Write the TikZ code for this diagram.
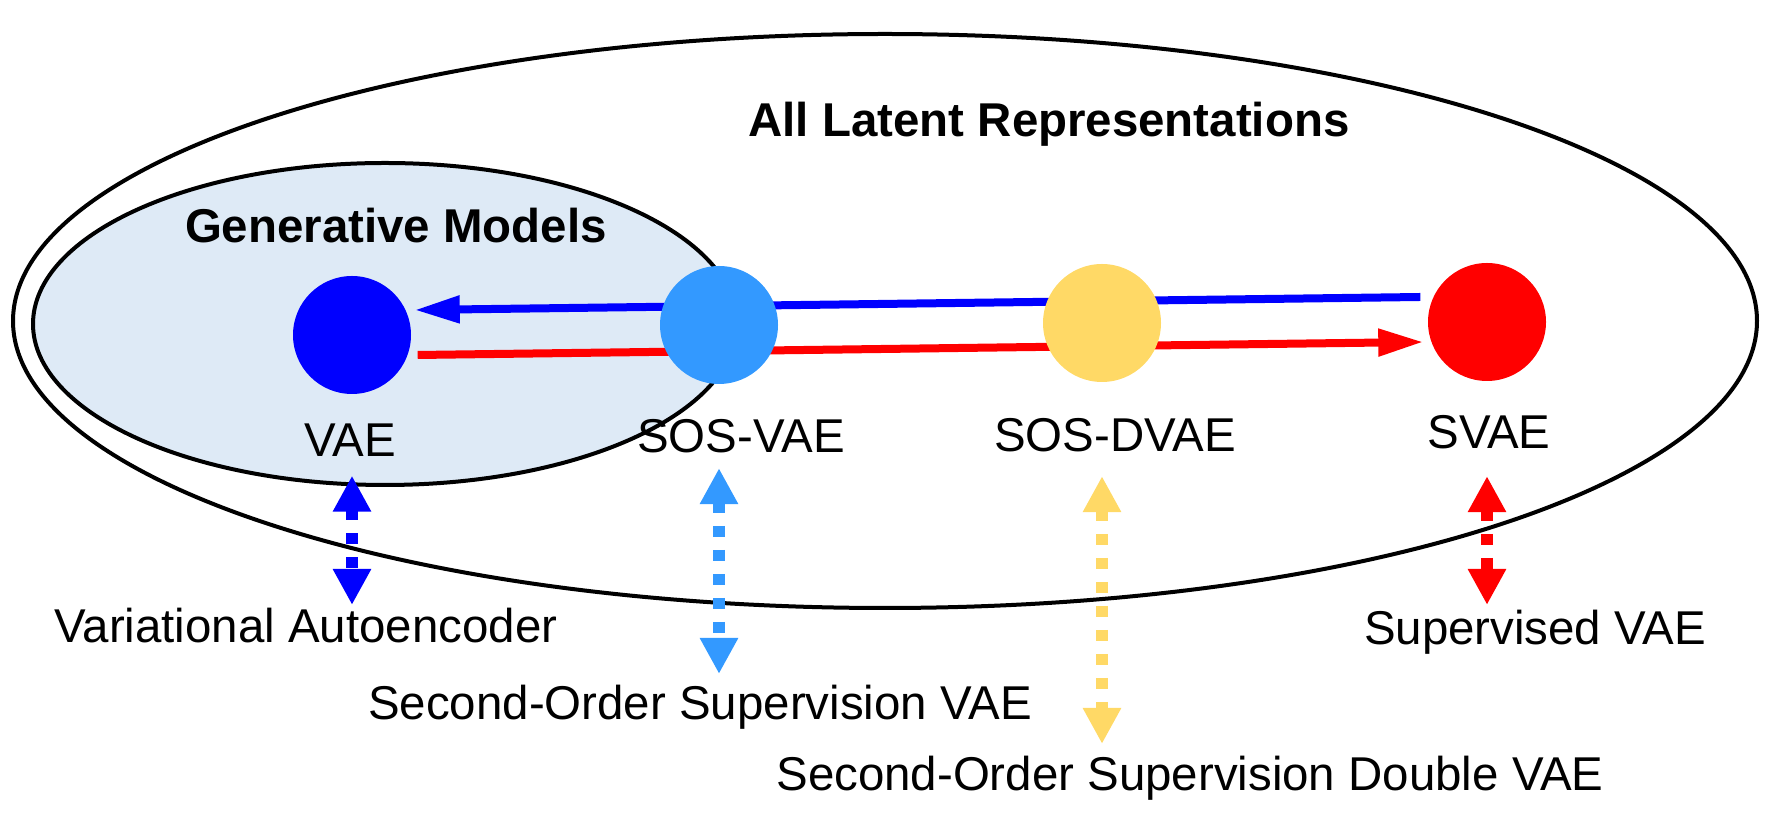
\documentclass[tikz,border=0pt]{standalone}
\usepackage{fontspec}
\setmainfont{Liberation Sans}
\usetikzlibrary{arrows.meta}
\definecolor{VaeBlue}{HTML}{0000FF}
\definecolor{SosBlue}{HTML}{3399FF}
\definecolor{SosGold}{HTML}{FFD966}
\definecolor{SvaeRed}{HTML}{FF0000}
\definecolor{GenFill}{HTML}{DEEAF6}
\pgfdeclarelayer{bg}
\pgfsetlayers{bg,main}

\begin{document}
\begin{tikzpicture}[x=0.1mm, y=-0.1mm,
  blob/.style={circle, minimum size=11.8mm, inner sep=0pt},
  lbl/.style={anchor=base, inner sep=0pt, font=\fontsize{13.5pt}{16pt}\selectfont},
  ttl/.style={anchor=base, inner sep=0pt, font=\fontsize{13.5pt}{16pt}\selectfont\bfseries},
  link/.style={-{Triangle[length=4.5mm, width=2.6mm]}, line width=0.8mm},
  dbl/.style={{Triangle[length=3.6mm, width=3.6mm]}-{Triangle[length=3.6mm, width=3.6mm]}, line width=1.2mm, dash pattern=on 1.1mm off 1.3mm}
]
\useasboundingbox (0,0) rectangle (1779,823);

\node[ttl] (alltitle) at (1049,137) {All Latent Representations};
\node[ttl] (gentitle) at (396,243) {Generative Models};

\node[blob, fill=VaeBlue] (vae) at (352,335) {};
\node[blob, fill=SosBlue] (sosvae) at (719,325) {};
\node[blob, fill=SosGold] (sosdvae) at (1102,323) {};
\node[blob, fill=SvaeRed] (svae) at (1487,322) {};

\node[lbl] (vaelbl) at (350,457) {VAE};
\node[lbl] (sosvaelbl) at (741,453) {SOS-VAE};
\node[lbl] (sosdvaelbl) at (1115,452) {SOS-DVAE};
\node[lbl] (svaelbl) at (1489,449) {SVAE};

\node[lbl] (vaedesc) at (306,643) {Variational Autoencoder};
\node[lbl] (sosvaedesc) at (700,720) {Second-Order Supervision VAE};
\node[lbl] (sosdvaedesc) at (1190,791) {Second-Order Supervision Double VAE};
\node[lbl] (svaedesc) at (1535,645) {Supervised VAE};

% sets and the two long arrows sit under the circles
\begin{pgfonlayer}{bg}
\draw[line width=0.4mm] (885,321) ellipse [x radius=87.2mm, y radius=28.7mm];
\draw[line width=0.4mm, fill=GenFill] (385,324) ellipse [x radius=35.2mm, y radius=16.1mm];
\draw[link, VaeBlue] ([shift={(-7,-25)}]svae.west) -- ([shift={(3,-25)}]vae.east);
\draw[link, SvaeRed] ([shift={(6,20)}]vae.east) -- ([shift={(-4,20)}]svae.west);
\end{pgfonlayer}

\draw[dbl, VaeBlue, shorten <=1.8mm, shorten >=0.3mm] (vaelbl.south -| vae) -- (vaedesc.north -| vae);
\draw[dbl, SosBlue, shorten <=1.4mm, shorten >=1.1mm] (sosvaelbl.south -| sosvae) -- (sosvaedesc.north -| sosvae);
\draw[dbl, SosGold, shorten <=2.3mm, shorten >=1.2mm] (sosdvaelbl.south -| sosdvae) -- (sosdvaedesc.north -| sosdvae);
\draw[dbl, SvaeRed, shorten <=2.6mm, shorten >=0.5mm] (svaelbl.south -| svae) -- (svaedesc.north -| svae);
\end{tikzpicture}
\end{document}
